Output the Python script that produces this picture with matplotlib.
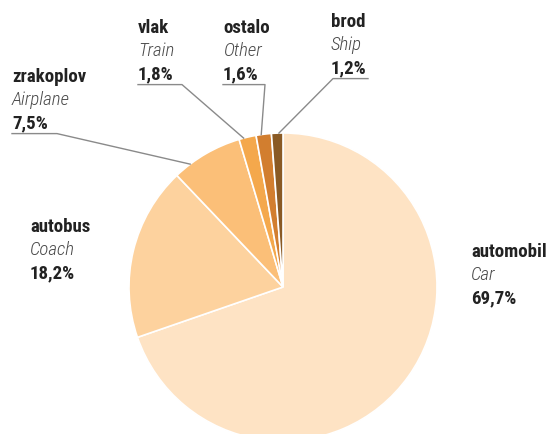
import numpy as np
import matplotlib
matplotlib.use('Agg')
import matplotlib.pyplot as plt

# Data
names_hr = ['automobil', 'autobus', 'zrakoplov', 'vlak', 'ostalo', 'brod']
names_en = ['Car', 'Coach', 'Airplane', 'Train', 'Other', 'Ship']
shares = [69.7, 18.2, 7.5, 1.8, 1.6, 1.2]

colors = ['#FEE3C4', '#FDD29E', '#FBBF78', '#F4A84C', '#D27E2F', '#8A5A24']

plt.rcParams['font.family'] = ['Roboto Condensed', 'Roboto', 'DejaVu Sans']

W, H = 555, 434
fig = plt.figure(figsize=(W / 100, H / 100), dpi=100)
ax = fig.add_axes([0, 0, 1, 1])

cx, cy, r = 283, 287, 154
# y axis is flipped, so counterclock=True draws clockwise on screen
wedges, _ = ax.pie(shares, colors=colors, startangle=-90, counterclock=True,
                   center=(cx, cy), radius=r, frame=True,
                   wedgeprops=dict(edgecolor='white', linewidth=1.2))
ax.set_xlim(0, W)
ax.set_ylim(H, 0)
ax.set_aspect('equal')
ax.axis('off')

# label blocks: x, baseline of first line, underline end x, where the leader hits the wedge
label_pos = [(471, 257, None, 0), (30, 232, None, 0), (12, 82, 57, 0.24),
             (138, 33, 182, 0.27), (223, 33, 265, 0.34), (331, 27, 368, 0.65)]
line_gap = 23.3
fs = 13.6
lc = '#8a8a8a'

for i, w in enumerate(wedges):
    x, y, ux, f = label_pos[i]
    ax.text(x, y, names_hr[i], fontsize=fs, fontweight='bold', color='#222222',
            va='baseline', ha='left')
    ax.text(x, y + line_gap, names_en[i], fontsize=fs, style='italic',
            fontweight='light', color='#4a4a4a', va='baseline', ha='left')
    pct = f'{shares[i]:.1f}%'.replace('.', ',')
    ax.text(x, y + 2 * line_gap, pct, fontsize=fs, fontweight='bold',
            color='#222222', va='baseline', ha='left')
    if ux is not None:
        uy = y + 2 * line_gap + 5
        ang = np.deg2rad(w.theta1 + f * (w.theta2 - w.theta1))
        ex = cx + r * np.cos(ang)
        ey = cy + r * np.sin(ang)
        if i == 5:
            ax.plot([ux, x + 2, ex], [uy, uy, ey], color=lc, lw=1)
        else:
            ax.plot([x, ux, ex], [uy, uy, ey], color=lc, lw=1)

fig.savefig('out.png', dpi=100)
